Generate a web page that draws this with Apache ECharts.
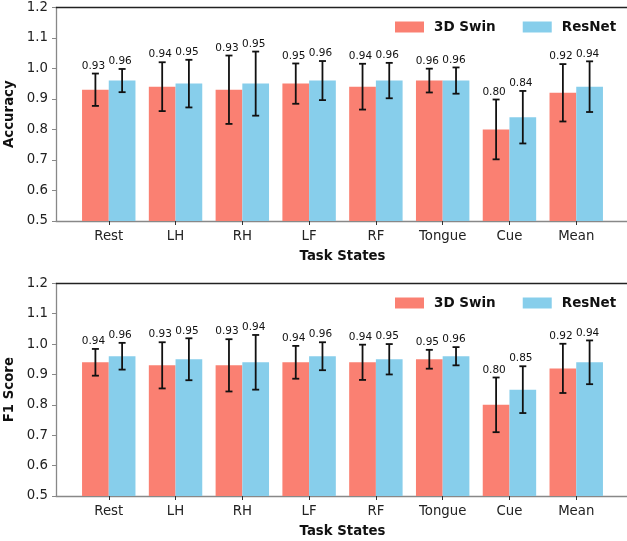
<!DOCTYPE html>
<html>
<head>
<meta charset="utf-8">
<script src="https://cdn.jsdelivr.net/npm/echarts@6/dist/echarts.min.js"></script>
<style>
  html, body { margin: 0; padding: 0; background: #fff; }
  #chart { width: 627px; height: 541px; }
</style>
</head>
<body>
<div id="chart"></div>
<script>
// Task states on the x axis
const categories = ['Rest', 'LH', 'RH', 'LF', 'RF', 'Tongue', 'Cue', 'Mean'];

// Accuracy: mean and standard deviation per task state
const accSwin      = [0.93, 0.94, 0.93, 0.95, 0.94, 0.96, 0.80, 0.92];
const accSwinErr   = [0.053, 0.080, 0.112, 0.066, 0.075, 0.039, 0.098, 0.094];
const accResNet    = [0.96, 0.95, 0.95, 0.96, 0.96, 0.96, 0.84, 0.94];
const accResNetErr = [0.038, 0.078, 0.105, 0.064, 0.058, 0.043, 0.086, 0.083];

// F1 score: mean and standard deviation per task state
const f1Swin       = [0.94, 0.93, 0.93, 0.94, 0.94, 0.95, 0.80, 0.92];
const f1SwinErr    = [0.044, 0.076, 0.086, 0.054, 0.058, 0.031, 0.090, 0.081];
const f1ResNet     = [0.96, 0.95, 0.94, 0.96, 0.95, 0.96, 0.85, 0.94];
const f1ResNetErr  = [0.044, 0.069, 0.090, 0.046, 0.050, 0.030, 0.077, 0.072];

// Y axis ticks
const yTicks = [0.5, 0.6, 0.7, 0.8, 0.9, 1.0, 1.1, 1.2];

const SWIN_COLOR = '#FA8072';
const RESNET_COLOR = '#87CEEB';
const FONT = 'DejaVu Sans';
const BAR_W = 0.4;
const X_MIN = -0.79, X_MAX = 7.79;

function rows(vals, errs) {
  return vals.map((v, i) => [i, v, errs[i]]);
}

// Bar with a symmetric error bar and its value written above the cap
function makeRender(offset, color) {
  return function (params, api) {
    const i = api.value(0), v = api.value(1), e = api.value(2);
    const cs = params.coordSys;
    const left = api.coord([i + offset - BAR_W / 2, v]);
    const right = api.coord([i + offset + BAR_W / 2, v]);
    const bottomY = cs.y + cs.height;
    const cx = api.coord([i + offset, v])[0];
    const hi = api.coord([i + offset, v + e])[1];
    const lo = api.coord([i + offset, v - e])[1];
    const cap = 3.5;
    const lineStyle = { stroke: '#111', lineWidth: 1.8 };
    return {
      type: 'group',
      children: [
        { type: 'rect', shape: { x: left[0], y: left[1], width: right[0] - left[0], height: bottomY - left[1] },
          style: { fill: color } },
        { type: 'line', shape: { x1: cx, y1: hi, x2: cx, y2: lo }, style: lineStyle },
        { type: 'line', shape: { x1: cx - cap, y1: hi, x2: cx + cap, y2: hi }, style: lineStyle },
        { type: 'line', shape: { x1: cx - cap, y1: lo, x2: cx + cap, y2: lo }, style: lineStyle },
        { type: 'text', x: cx - 2, y: hi - 2,
          style: { text: v.toFixed(2), fill: '#111', font: '10.5px "DejaVu Sans"', align: 'center', verticalAlign: 'bottom' } }
      ]
    };
  };
}

function xAxis(gridIndex) {
  return {
    type: 'value', gridIndex, min: X_MIN, max: X_MAX,
    name: 'Task States', nameLocation: 'middle', nameGap: 29,
    nameTextStyle: { fontFamily: FONT, fontWeight: 'bold', fontSize: 13.3, color: '#111' },
    axisLine: { show: true, onZero: false, lineStyle: { color: '#888', width: 1.3 } },
    axisTick: { show: true, length: 4, customValues: categories.map((c, i) => i), lineStyle: { color: '#333' } },
    axisLabel: { customValues: categories.map((c, i) => i), formatter: v => categories[Math.round(v)],
      fontFamily: FONT, fontSize: 13.3, color: '#222', margin: 9 },
    splitLine: { show: false }
  };
}

// Top frame line of each panel
function topSpine(gridIndex) {
  return {
    type: 'value', gridIndex, position: 'top', min: X_MIN, max: X_MAX,
    axisLine: { show: true, onZero: false, lineStyle: { color: '#222', width: 1.3 } },
    axisTick: { show: false }, axisLabel: { show: false }, splitLine: { show: false }
  };
}

function yAxis(gridIndex, name) {
  return {
    type: 'value', gridIndex, min: yTicks[0], max: yTicks[yTicks.length - 1], interval: 0.1,
    name, nameLocation: 'middle', nameGap: 32, nameRotate: 90,
    nameTextStyle: { fontFamily: FONT, fontWeight: 'bold', fontSize: 13.3, color: '#111' },
    axisLine: { show: true, onZero: false, lineStyle: { color: '#888', width: 1.3 } },
    axisTick: { show: true, length: 4, lineStyle: { color: '#888' } },
    axisLabel: { formatter: v => v.toFixed(1), fontFamily: FONT, fontSize: 13.3, color: '#222', margin: 8 },
    splitLine: { show: false }
  };
}

function legend(top) {
  return {
    top, left: 395, itemWidth: 29, itemHeight: 11, itemGap: 27, icon: 'rect', padding: 0,
    data: ['3D Swin', 'ResNet'],
    textStyle: { fontFamily: FONT, fontWeight: 'bold', fontSize: 13.5, color: '#111', padding: [0, 0, 0, 5] }
  };
}

function series(name, idx, offset, color, data) {
  return {
    type: 'custom', name, xAxisIndex: idx, yAxisIndex: idx,
    itemStyle: { color }, renderItem: makeRender(offset, color), data
  };
}

const gridBase = { left: 56, width: 573, show: false, outerBoundsMode: 'none', containLabel: false };

const chart = echarts.init(document.getElementById('chart'), null, { renderer: 'canvas' });
chart.setOption({
  animation: false,
  backgroundColor: '#fff',
  grid: [
    Object.assign({}, gridBase, { top: 7.3, height: 213.7 }),
    Object.assign({}, gridBase, { top: 283.3, height: 212.7 })
  ],
  legend: [legend(20), legend(296)],
  xAxis: [xAxis(0), xAxis(1), topSpine(0), topSpine(1)],
  yAxis: [yAxis(0, 'Accuracy'), yAxis(1, 'F1 Score')],
  series: [
    series('3D Swin', 0, -0.2, SWIN_COLOR, rows(accSwin, accSwinErr)),
    series('ResNet', 0, 0.2, RESNET_COLOR, rows(accResNet, accResNetErr)),
    series('3D Swin', 1, -0.2, SWIN_COLOR, rows(f1Swin, f1SwinErr)),
    series('ResNet', 1, 0.2, RESNET_COLOR, rows(f1ResNet, f1ResNetErr))
  ]
});
</script>
</body>
</html>
